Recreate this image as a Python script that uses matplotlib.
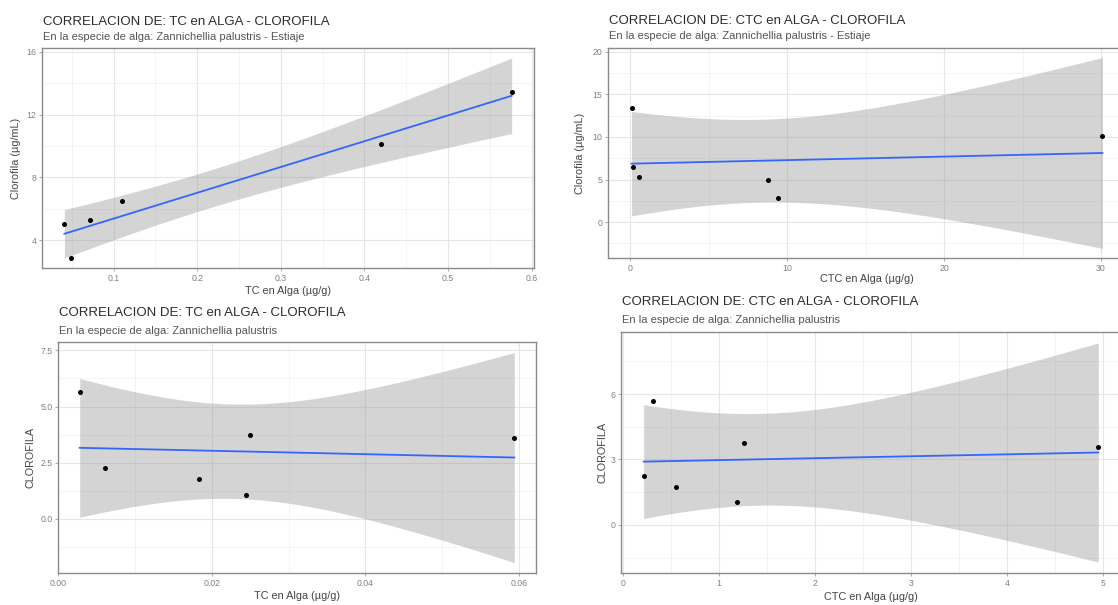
import matplotlib
matplotlib.use("Agg")
import matplotlib.pyplot as plt
from matplotlib.ticker import MultipleLocator, FormatStrFormatter
import numpy as np

plt.rcParams['font.family'] = ['Liberation Sans', 'DejaVu Sans']

W, H = 1118, 605

# Estiaje (dry season) samples
clorofila_estiaje = [5.00, 2.88, 5.25, 6.52, 10.15, 13.42]
tc_estiaje = [0.041, 0.049, 0.072, 0.110, 0.420, 0.576]
ctc_estiaje = [8.74, 9.41, 0.56, 0.18, 30.09, 0.07]

# Second sampling
clorofila = [5.66, 2.25, 1.75, 1.05, 3.75, 3.58]
tc = [0.0028, 0.0061, 0.0184, 0.0245, 0.0250, 0.0594]
ctc = [0.31, 0.215, 0.55, 1.19, 1.256, 4.95]

T_95_DF4 = 2.776  # t quantile for a 95% band with n = 6 points


def px_rect(left, top, right, bottom):
    return [left / W, 1 - bottom / H, (right - left) / W, (bottom - top) / H]


def lm_band(x, y):
    # ordinary least squares fit with 95% confidence band (like geom_smooth(method='lm'))
    x = np.asarray(x, float)
    y = np.asarray(y, float)
    slope, intercept = np.polyfit(x, y, 1)
    resid = y - (slope * x + intercept)
    s = np.sqrt(np.sum(resid ** 2) / (len(x) - 2))
    xs = np.linspace(x.min(), x.max(), 80)
    fit = slope * xs + intercept
    se = s * np.sqrt(1 / len(x) + (xs - x.mean()) ** 2 / np.sum((x - x.mean()) ** 2))
    return xs, fit, fit - T_95_DF4 * se, fit + T_95_DF4 * se


def draw_panel(fig, box, x, y, title, subtitle, xlabel, ylabel,
               xstep, ystep, xfmt, yfmt, title_y, sub_y, xgap, ygap):
    left, top, right, bottom = box
    ax = fig.add_axes(px_rect(left, top, right, bottom))
    wpx, hpx = right - left, bottom - top

    xs, fit, lo, hi = lm_band(x, y)
    ax.fill_between(xs, lo, hi, color='#999999', alpha=0.42, linewidth=0, zorder=2)
    ax.plot(xs, fit, color='#3366FF', linewidth=1.3, zorder=3)
    ax.scatter(x, y, s=13, color='black', zorder=4, linewidths=0)

    ax.xaxis.set_major_locator(MultipleLocator(xstep))
    ax.xaxis.set_minor_locator(MultipleLocator(xstep / 2))
    ax.yaxis.set_major_locator(MultipleLocator(ystep))
    ax.yaxis.set_minor_locator(MultipleLocator(ystep / 2))
    ax.xaxis.set_major_formatter(FormatStrFormatter(xfmt))
    ax.yaxis.set_major_formatter(FormatStrFormatter(yfmt))

    ax.set_axisbelow(True)
    ax.grid(which='major', color='#E6E6E6', linewidth=0.8)
    ax.grid(which='minor', color='#F0F0F0', linewidth=0.5)
    ax.tick_params(which='major', length=2, width=0.5, color='#888888',
                   labelsize=6.3, labelcolor='#808080', pad=2)
    ax.tick_params(which='minor', length=0)
    for sp in ax.spines.values():
        sp.set_color('#8a8a8a')
        sp.set_linewidth(1.0)

    ax.set_xlabel(xlabel, fontsize=7.8, color='#444444')
    ax.xaxis.set_label_coords(0.5, -xgap / hpx)
    ax.xaxis.label.set_va('center')
    ax.set_ylabel(ylabel, fontsize=7.8, color='#444444')
    ax.yaxis.set_label_coords(-ygap / wpx, 0.5)
    ax.yaxis.label.set_va('center')
    ax.yaxis.label.set_ha('center')

    fig.text(left / W + 0.0005, 1 - title_y / H, title, fontsize=9.5,
             color='#2b2b2b', va='center', ha='left')
    fig.text(left / W + 0.0005, 1 - sub_y / H, subtitle, fontsize=8.0,
             color='#555555', va='center', ha='left')
    return ax


fig = plt.figure(figsize=(W / 100, H / 100), dpi=100)

draw_panel(fig, (42, 48, 534, 268), tc_estiaje, clorofila_estiaje,
           'CORRELACION DE: TC en ALGA - CLOROFILA',
           'En la especie de alga: Zannichellia palustris - Estiaje',
           'TC en Alga (µg/g)', 'Clorofila (µg/mL)',
           0.1, 4, '%.1f', '%d', 22, 37, 23, 26)

draw_panel(fig, (608, 48, 1126, 258), ctc_estiaje, clorofila_estiaje,
           'CORRELACION DE: CTC en ALGA - CLOROFILA',
           'En la especie de alga: Zannichellia palustris - Estiaje',
           'CTC en Alga (µg/g)', 'Clorofila (µg/mL)',
           10, 5, '%d', '%d', 21, 36, 21, 28)

draw_panel(fig, (58, 342, 536, 573), tc, clorofila,
           'CORRELACION DE: TC en ALGA - CLOROFILA',
           'En la especie de alga: Zannichellia palustris',
           'TC en Alga (µg/g)', 'CLOROFILA',
           0.02, 2.5, '%.2f', '%.1f', 313, 331, 23, 27)

draw_panel(fig, (621, 332, 1121, 573), ctc, clorofila,
           'CORRELACION DE: CTC en ALGA - CLOROFILA',
           'En la especie de alga: Zannichellia palustris',
           'CTC en Alga (µg/g)', 'CLOROFILA',
           1, 3, '%d', '%d', 302, 320, 24, 19)

fig.savefig('out.png', dpi=100)
